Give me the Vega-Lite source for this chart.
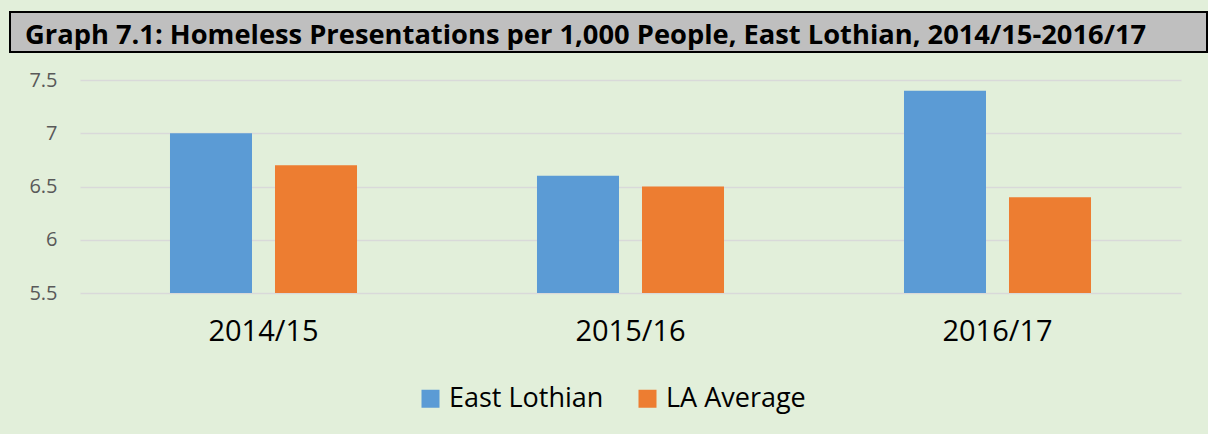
{
  "$schema": "https://vega.github.io/schema/vega-lite/v6.json",
  "background": "#e2efda",
  "padding": {"left": 9, "top": 11, "right": 0, "bottom": 28},
  "config": {"font": "Open Sans", "view": {"stroke": null}},
  "spacing": 17,
  "resolve": {"legend": {"color": "independent"}, "scale": {"color": "independent"}},
  "vconcat": [
    {
      "width": 1101,
      "height": 40,
      "data": {"values": [{"t": "Graph 7.1: Homeless Presentations per 1,000 People, East Lothian, 2014/15-2016/17"}]},
      "layer": [
        {
          "mark": {"type": "rect", "fill": "#bfbfbf", "stroke": "#000000", "strokeWidth": 2, "clip": false},
          "encoding": {
            "x": {"datum": -70, "type": "quantitative", "scale": {"domain": [0, 1101], "nice": false, "zero": false}, "axis": null},
            "x2": {"datum": 1127},
            "y": {"datum": 0, "type": "quantitative", "scale": {"domain": [0, 1], "nice": false}, "axis": null},
            "y2": {"datum": 1}
          }
        },
        {
          "mark": {"type": "text", "align": "left", "baseline": "alphabetic", "dx": 15, "fontSize": 27.3, "fontWeight": "bold", "color": "#000000"},
          "encoding": {
            "text": {"field": "t"},
            "x": {"datum": -70, "type": "quantitative"},
            "y": {"datum": 0.2, "type": "quantitative"}
          }
        }
      ]
    },
    {
      "width": 1101,
      "height": 213,
      "data": {
        "values": [
          {"year": "2014/15", "series": "East Lothian", "value": 7.0},
          {"year": "2014/15", "series": "LA Average", "value": 6.7},
          {"year": "2015/16", "series": "East Lothian", "value": 6.6},
          {"year": "2015/16", "series": "LA Average", "value": 6.5},
          {"year": "2016/17", "series": "East Lothian", "value": 7.4},
          {"year": "2016/17", "series": "LA Average", "value": 6.4}
        ]
      },
      "mark": {"type": "bar"},
      "encoding": {
        "x": {
          "field": "year",
          "type": "nominal",
          "scale": {"paddingInner": 0, "paddingOuter": 0},
          "axis": {"title": null, "labelAngle": 0, "labelFontSize": 29, "labelColor": "#000000", "labelPadding": 24, "domain": false, "ticks": false}
        },
        "xOffset": {
          "field": "series",
          "sort": ["East Lothian", "LA Average"],
          "scale": {"paddingInner": 0.219, "paddingOuter": 0.857}
        },
        "y": {
          "field": "value",
          "type": "quantitative",
          "scale": {"domain": [5.5, 7.5], "zero": false, "nice": false},
          "axis": {"title": null, "values": [5.5, 6, 6.5, 7, 7.5], "format": "~g", "labelFontSize": 20, "labelColor": "#595959", "labelPadding": 23, "ticks": false, "domain": false, "gridColor": "#d9d9d9", "gridWidth": 1.5, "minExtent": 70, "maxExtent": 70}
        },
        "y2": {"datum": 5.5},
        "color": {
          "field": "series",
          "type": "nominal",
          "scale": {"domain": ["East Lothian", "LA Average"], "range": ["#5b9bd5", "#ed7d31"]},
          "legend": {"title": null, "orient": "none", "direction": "horizontal", "legendX": 337, "legendY": 305, "symbolType": "square", "symbolSize": 324, "labelFontSize": 27, "labelColor": "#000000", "columnPadding": 30, "labelOffset": 5, "symbolStrokeWidth": 0}
        }
      }
    }
  ]
}
